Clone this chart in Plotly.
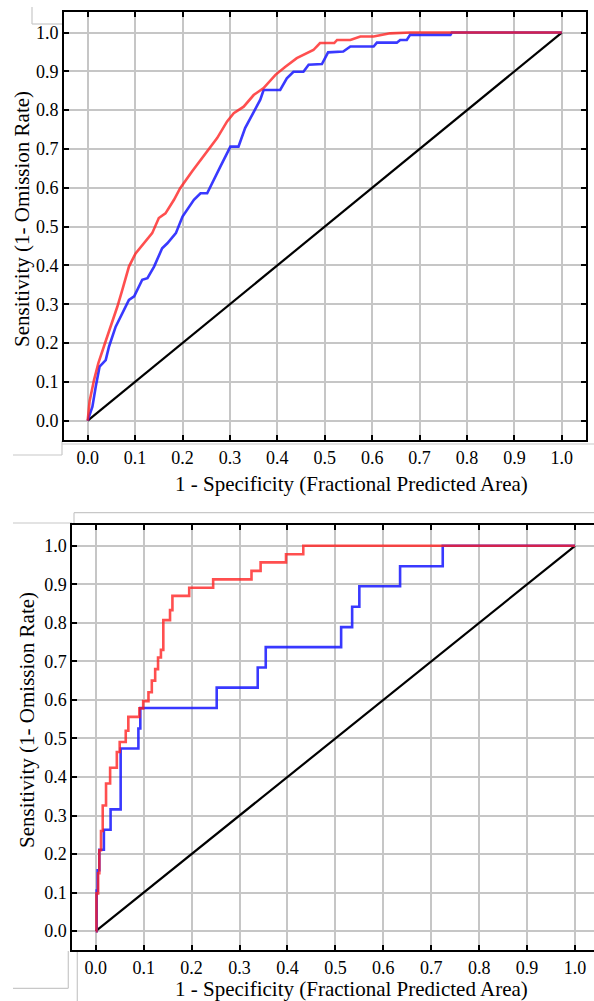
import plotly.graph_objects as go

# ---------------- data ----------------
tick_vals = [0.0, 0.1, 0.2, 0.3, 0.4, 0.5, 0.6, 0.7, 0.8, 0.9, 1.0]
tick_text = ["0.0", "0.1", "0.2", "0.3", "0.4", "0.5", "0.6", "0.7", "0.8", "0.9", "1.0"]

x_title = "1 - Specificity (Fractional Predicted Area)"
y_title = "Sensitivity (1- Omission Rate)"

# top panel
top_red_x = [0, 0.004, 0.0134, 0.0225, 0.0366, 0.0486, 0.0626, 0.073, 0.087, 0.101, 0.119, 0.136,
             0.150, 0.164, 0.182, 0.195, 0.220, 0.248, 0.273, 0.294, 0.308, 0.329, 0.35, 0.371,
             0.396, 0.417, 0.441, 0.476, 0.49, 0.52, 0.526, 0.554, 0.575, 0.603, 0.638, 0.68, 1.0]
top_red_y = [0, 0.05, 0.105, 0.148, 0.2, 0.242, 0.294, 0.337, 0.397, 0.431, 0.457, 0.483,
             0.522, 0.534, 0.569, 0.599, 0.642, 0.689, 0.728, 0.771, 0.792, 0.809, 0.839, 0.857,
             0.891, 0.912, 0.934, 0.955, 0.973, 0.973, 0.981, 0.981, 0.99, 0.99, 0.998, 1.0, 1.0]

top_blue_x = [0, 0.0099, 0.017, 0.025, 0.038, 0.045, 0.059, 0.077, 0.087, 0.098, 0.115, 0.126,
              0.14, 0.157, 0.168, 0.186, 0.2, 0.224, 0.238, 0.252, 0.265, 0.28, 0.301, 0.318,
              0.332, 0.349, 0.364, 0.371, 0.406, 0.42, 0.434, 0.455, 0.466, 0.494, 0.507, 0.539,
              0.554, 0.603, 0.61, 0.652, 0.659, 0.673, 0.68, 0.765, 0.768, 1.0]
top_blue_y = [0, 0.036, 0.088, 0.139, 0.156, 0.191, 0.242, 0.285, 0.311, 0.320, 0.363, 0.367,
              0.397, 0.444, 0.457, 0.483, 0.526, 0.569, 0.586, 0.586, 0.62, 0.655, 0.706, 0.706,
              0.754, 0.792, 0.827, 0.852, 0.852, 0.882, 0.899, 0.899, 0.917, 0.919, 0.949, 0.951,
              0.964, 0.964, 0.974, 0.974, 0.981, 0.981, 0.994, 0.994, 1.0, 1.0]

# bottom panel (step curves: each point is the top of a vertical rise)
bot_red_x = [0, 0.0015, 0.005, 0.0075, 0.011, 0.0146, 0.0215, 0.030, 0.044, 0.050, 0.0626,
             0.068, 0.091, 0.099, 0.11, 0.117, 0.124, 0.13, 0.136, 0.141, 0.155, 0.16, 0.195,
             0.245, 0.325, 0.344, 0.397, 0.433, 1.0]
bot_red_y = [0, 0.098, 0.15, 0.21, 0.26, 0.326, 0.383, 0.424, 0.465, 0.491, 0.52,
             0.556, 0.578, 0.597, 0.62, 0.65, 0.68, 0.71, 0.73, 0.807, 0.833, 0.87, 0.891,
             0.913, 0.935, 0.957, 0.978, 1.0, 1.0]

bot_blue_x = [0, 0.002, 0.004, 0.0075, 0.017, 0.031, 0.052, 0.089, 0.093, 0.2524, 0.338,
              0.3547, 0.512, 0.535, 0.55, 0.635, 0.724, 1.0]
bot_blue_y = [0, 0.105, 0.158, 0.211, 0.263, 0.316, 0.474, 0.526, 0.579, 0.632, 0.684,
              0.737, 0.789, 0.842, 0.895, 0.947, 1.0, 1.0]

diag_x = [0, 1]
diag_y = [0, 1]

# ---------------- figure ----------------
W, H = 594, 1001
RED = "rgba(255,30,30,0.78)"
BLUE = "rgba(30,30,255,0.88)"
FONT = "Liberation Serif, Times New Roman, serif"

fig = go.Figure()

for xa, ya, rx, ry, bx, by, shape in [
    ("x", "y", top_red_x, top_red_y, top_blue_x, top_blue_y, "linear"),
    ("x2", "y2", bot_red_x, bot_red_y, bot_blue_x, bot_blue_y, "hv"),
]:
    fig.add_trace(go.Scatter(x=diag_x, y=diag_y, mode="lines", xaxis=xa, yaxis=ya,
                             line=dict(color="black", width=2.2), showlegend=False))
    fig.add_trace(go.Scatter(x=bx, y=by, mode="lines", xaxis=xa, yaxis=ya,
                             line=dict(color=BLUE, width=2.6, shape=shape), showlegend=False))
    fig.add_trace(go.Scatter(x=rx, y=ry, mode="lines", xaxis=xa, yaxis=ya,
                             line=dict(color=RED, width=2.6, shape=shape), showlegend=False))


def px(v):
    return v / W


def py(v):
    return 1 - v / H


axis_common = dict(
    tickvals=tick_vals, ticktext=tick_text, showgrid=True, gridcolor="#c6c6c6", gridwidth=1.5,
    zeroline=False, showline=True, linecolor="black", linewidth=2, ticks="inside",
    ticklen=5, tickcolor="black", tickwidth=1.5,
    tickfont=dict(family=FONT, size=18, color="black"),
)

fig.update_layout(
    width=W, height=H, margin=dict(l=0, r=0, t=0, b=0),
    paper_bgcolor="white", plot_bgcolor="white",
    font=dict(family=FONT, color="black"),
    xaxis=dict(domain=[px(64), px(586)], range=[-0.05, 1.051], anchor="y", mirror="ticks",
               **axis_common),
    yaxis=dict(domain=[py(440), py(12)], range=[-0.05, 1.053], anchor="x", mirror="ticks",
               **axis_common),
    xaxis2=dict(domain=[px(72.3), 1.0], range=[-0.0489, 1.0396], anchor="y2", mirror="ticks",
                **axis_common),
    yaxis2=dict(domain=[py(950), py(525)], range=[-0.049, 1.054], anchor="x2", mirror=False,
                **axis_common),
)

title_font = dict(family=FONT, size=21, color="black")
annotations = [
    dict(text=x_title, x=px(351.5), y=py(484), xref="paper", yref="paper",
         showarrow=False, font=title_font, xanchor="center", yanchor="middle"),
    dict(text=y_title, x=px(22), y=py(219), xref="paper", yref="paper", textangle=-90,
         showarrow=False, font=title_font, xanchor="center", yanchor="middle"),
    dict(text=x_title, x=px(351), y=py(989), xref="paper", yref="paper",
         showarrow=False, font=title_font, xanchor="center", yanchor="middle"),
    dict(text=y_title, x=px(27), y=py(720), xref="paper", yref="paper", textangle=-90,
         showarrow=False, font=title_font, xanchor="center", yanchor="middle"),
]
fig.update_layout(annotations=annotations)

# faint frame remnants around the panels
gray = dict(color="#c8c8c8", width=1.2)
segments = [
    (32, 7, 32, 24), (32, 24, 64, 24),
    (13, 455, 62, 455), (62, 441, 62, 455), (62, 444, 594, 444),
    (74, 512.7, 594, 512.7), (74, 512.7, 74, 523), (13, 523, 72, 523),
    (68.3, 951, 68.3, 988.3), (13, 988.3, 68.3, 988.3), (77.3, 951.7, 77.3, 1001),
]
for x0, y0, x1, y1 in segments:
    fig.add_shape(type="line", xref="paper", yref="paper", x0=px(x0), y0=py(y0),
                  x1=px(x1), y1=py(y1), line=gray, layer="below")

fig.write_html("out.html")
